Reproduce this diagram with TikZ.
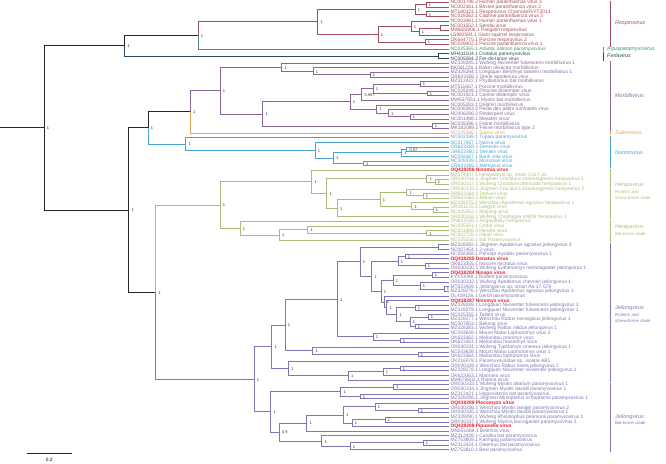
\documentclass[tikz,border=0pt]{standalone}
\usepackage{fontspec}
\setmainfont{Liberation Sans}
\usetikzlibrary{calc}
\definecolor{resp}{HTML}{A04F5E}
\definecolor{aqua}{HTML}{3E9A6E}
\definecolor{ferla}{HTML}{2E4A57}
\definecolor{morbi}{HTML}{8A689C}
\definecolor{salem}{HTML}{E0A84F}
\definecolor{narmo}{HTML}{4AA3CF}
\definecolor{heni}{HTML}{A9BD7A}
\definecolor{jeil}{HTML}{7C76B2}
\definecolor{redc}{HTML}{E8202A}
\newcommand\lf{\fontsize{4.9}{5}\selectfont}
\newcommand\tnd[4]{\path let \p1=(#3), \p2=(#4) in coordinate (#1) at (#2pt,{0.5*\y1+0.5*\y2});}
\tikzset{
  lab/.style={anchor=west, inner sep=0pt, xshift=1.3pt, font=\lf},
  redlab/.style={lab, text=redc, font=\lf\bfseries},
  bs/.style={anchor=west, inner sep=0pt, xshift=2.6pt, yshift=-0.5pt, font=\fontsize{4}{4}\selectfont, text=black!80},
  br/.style={line width=0.8pt},
  bb/.style={line width=0.95pt, black!85},
  clade/.style={anchor=west, inner sep=0pt, font=\fontsize{5.4}{6}\selectfont\itshape},
  sub/.style={anchor=west, inner sep=0pt, font=\fontsize{4.3}{5}\selectfont\itshape},
  bar/.style={line width=0.8pt}
}
\begin{document}
\begin{tikzpicture}[x=1pt,y=-1pt]
\useasboundingbox (0,0) rectangle (666,463);
\foreach \i in {1,...,97} \coordinate (t\i) at (449,{2.5+4.66*(\i-1)});
% Respirovirus
\tnd{r12}{426}{t1}{t2}
\tnd{r34}{426}{t3}{t4}
\tnd{rA}{415}{r12}{r34}
\tnd{r67}{440}{t6}{t7}
\tnd{r678}{419}{r67}{t8}
\tnd{r5678}{411}{t5}{r678}
\tnd{r910}{425}{t9}{t10}
\tnd{rB}{378}{r5678}{r910}
\tnd{rR}{317.7}{rA}{rB}
\tnd{rAq}{198}{rR}{t11}
\tnd{f}{438}{t12}{t13}
\tnd{top}{124.7}{rAq}{f}
% Morbillivirus
\tnd{m1617}{370}{t16}{t17}
\tnd{m2}{313}{t15}{m1617}
\tnd{m1}{281.7}{t14}{m2}
\tnd{m1819}{420}{t18}{t19}
\tnd{m2021}{427}{t20}{t21}
\tnd{m373}{373}{m1819}{m2021}
\tnd{m361}{361.7}{m373}{t22}
\tnd{m2526}{410}{t25}{t26}
\tnd{m388}{388.3}{t24}{m2526}
\tnd{m376}{376.7}{t23}{m388}
\tnd{m5}{350}{m361}{m376}
\tnd{m2728}{432}{t27}{t28}
\tnd{m4}{262.7}{m5}{m2728}
\tnd{m0}{220}{m1}{m4}
\tnd{ms}{190.3}{m0}{t29}
% Narmovirus
\tnd{n3233}{406.7}{t32}{t33}
\tnd{n3}{401.7}{n3233}{t34}
\tnd{n3536}{363.3}{t35}{t36}
\tnd{n2}{333.3}{n3}{n3536}
\tnd{n1}{315}{t31}{n2}
\tnd{n0}{185.7}{t30}{n1}
\tnd{mid}{148}{ms}{n0}
% Henipavirus
\tnd{h3940}{435}{t39}{t40}
\tnd{hg1}{426.7}{t38}{h3940}
\tnd{h4243}{423}{t42}{t43}
\tnd{h406}{406.7}{t41}{h4243}
\tnd{h4546}{433}{t45}{t46}
\tnd{h411}{411.7}{t44}{h4546}
\tnd{he}{380}{h406}{h411}
\tnd{hc}{337.3}{he}{t47}
\tnd{hb}{326.7}{hg1}{hc}
\tnd{ha}{311.7}{t37}{hb}
\tnd{h5051}{426.7}{t50}{t51}
\tnd{hk}{307.7}{t49}{h5051}
\tnd{hj}{279.3}{hk}{t52}
\tnd{hi}{240}{t48}{hj}
\tnd{hh}{220}{ha}{hi}
% Jeilongvirus rodent
\tnd{j5354}{438}{t53}{t54}
\tnd{j5556}{405}{t55}{t56}
\tnd{j5758}{425}{t57}{t58}
\tnd{j7}{398}{j5556}{j5758}
\tnd{j5960}{432}{t59}{t60}
\tnd{j6263}{444}{t62}{t63}
\tnd{j9b}{420}{t61}{j6263}
\tnd{j9}{393}{j5960}{j9b}
\tnd{j6667}{415}{t66}{t67}
\tnd{j6869}{428}{t68}{t69}
\tnd{j7071}{415}{t70}{t71}
\tnd{jq}{410}{j6869}{j7071}
\tnd{jp}{396.7}{j6667}{jq}
\tnd{jo}{386.7}{t65}{jp}
\tnd{jn}{384}{t64}{jo}
\tnd{j8}{381}{j9}{jn}
\tnd{j6}{371.7}{j7}{j8}
\tnd{j5}{360}{j5354}{j6}
\tnd{j7374}{400}{t73}{t74}
\tnd{j10}{373}{t72}{j7374}
\tnd{j4}{337.3}{j5}{j10}
\tnd{j7677}{418}{t76}{t77}
\tnd{j3}{312.7}{t75}{j7677}
\tnd{j2}{285}{j4}{j3}
\tnd{j7980}{400}{t79}{t80}
\tnd{j13}{383}{j7980}{t81}
\tnd{j12}{348.3}{j13}{t82}
\tnd{j11}{288.3}{t78}{j12}
\tnd{j1}{271.7}{j2}{j11}
% Jeilongvirus bat
\tnd{j8384}{393.3}{t83}{t84}
\tnd{j8586}{360}{t85}{t86}
\tnd{jb1}{340.7}{j8384}{j8586}
\tnd{j8889}{418}{t88}{t89}
\tnd{jb6}{375}{t87}{j8889}
\tnd{j9091}{385}{t90}{t91}
\tnd{jb7}{352}{j9091}{t92}
\tnd{jb5}{343.3}{jb6}{jb7}
\tnd{jb3}{306.7}{jb5}{t93}
\tnd{j9596}{423}{t95}{t96}
\tnd{jb8}{350}{j9596}{t97}
\tnd{jb4}{321.7}{t94}{jb8}
\tnd{jb2}{279.3}{jb3}{jb4}
\tnd{jb}{270.7}{jb1}{jb2}
\tnd{j0}{254}{j1}{jb}
\tnd{h0}{155.7}{hh}{j0}
\tnd{lower}{128.7}{mid}{h0}
\tnd{root}{44}{top}{lower}
\coordinate (rootin) at (0,0 |- root);
% ---- branches
\draw[bb] (rootin) -- (root);
\foreach \p/\c in {root/top, root/lower, top/rAq, lower/mid, lower/h0, mid/ms}
  \draw[bb] (\p) |- (\c);
\foreach \p/\c in {top/f, f/t12, f/t13} \draw[br,ferla] (\p) |- (\c);
\draw[br,aqua] (rAq) |- (t11);
\foreach \p/\c in {rAq/rR, rR/rA, rR/rB, rA/r12, rA/r34, r12/t1, r12/t2, r34/t3, r34/t4,
  rB/r5678, rB/r910, r5678/t5, r5678/r678, r678/r67, r678/t8, r67/t6, r67/t7, r910/t9, r910/t10}
  \draw[br,resp] (\p) |- (\c);
\foreach \p/\c in {ms/m0, m0/m1, m0/m4, m1/t14, m1/m2, m2/t15, m2/m1617, m1617/t16, m1617/t17,
  m4/m5, m4/m2728, m2728/t27, m2728/t28, m5/m361, m5/m376, m361/m373, m361/t22, m373/m1819,
  m373/m2021, m1819/t18, m1819/t19, m2021/t20, m2021/t21, m376/t23, m376/m388, m388/t24,
  m388/m2526, m2526/t25, m2526/t26}
  \draw[br,morbi] (\p) |- (\c);
\draw[br,salem] (ms) |- (t29);
\foreach \p/\c in {mid/n0, n0/t30, n0/n1, n1/t31, n1/n2, n2/n3, n2/n3536, n3/n3233, n3/t34,
  n3233/t32, n3233/t33, n3536/t35, n3536/t36}
  \draw[br,narmo] (\p) |- (\c);
\foreach \p/\c in {h0/hh, hh/ha, hh/hi, ha/t37, ha/hb, hb/hg1, hb/hc, hg1/t38, hg1/h3940,
  h3940/t39, h3940/t40, hc/he, hc/t47, he/h406, he/h411, h406/t41, h406/h4243, h4243/t42,
  h4243/t43, h411/t44, h411/h4546, h4546/t45, h4546/t46, hi/t48, hi/hj, hj/hk, hj/t52,
  hk/t49, hk/h5051, h5051/t50, h5051/t51}
  \draw[br,heni] (\p) |- (\c);
\foreach \p/\c in {h0/j0, j0/j1, j0/jb, j1/j2, j1/j11, j2/j4, j2/j3, j4/j5, j4/j10,
  j5/j5354, j5/j6, j5354/t53, j5354/t54, j6/j7, j6/j8, j7/j5556, j7/j5758, j5556/t55,
  j5556/t56, j5758/t57, j5758/t58, j8/j9, j8/jn, j9/j5960, j9/j9b, j5960/t59, j5960/t60,
  j9b/t61, j9b/j6263, j6263/t62, j6263/t63, jn/t64, jn/jo, jo/t65, jo/jp, jp/j6667, jp/jq,
  j6667/t66, j6667/t67, jq/j6869, jq/j7071, j6869/t68, j6869/t69, j7071/t70, j7071/t71,
  j10/t72, j10/j7374, j7374/t73, j7374/t74, j3/t75, j3/j7677, j7677/t76, j7677/t77,
  j11/t78, j11/j12, j12/j13, j12/t82, j13/j7980, j13/t81, j7980/t79, j7980/t80,
  jb/jb1, jb/jb2, jb1/j8384, jb1/j8586, j8384/t83, j8384/t84, j8586/t85, j8586/t86,
  jb2/jb3, jb2/jb4, jb3/jb5, jb3/t93, jb5/jb6, jb5/jb7, jb6/t87, jb6/j8889, j8889/t88,
  j8889/t89, jb7/j9091, jb7/t92, j9091/t90, j9091/t91, jb4/t94, jb4/jb8, jb8/j9596,
  jb8/t97, j9596/t95, j9596/t96}
  \draw[br,jeil] (\p) |- (\c);
% ---- support values
\foreach \n in {root, top, lower, rAq, rR, rA, r12, r34, rB, r5678, r678, r910,
  mid, ms, m0, m1, m2, m1617, m4, m5, m373, m1819, m2021, m376, m388, m2526, m2728,
  n0, n1, n2, n3, n3536, h0, hh, ha, hb, hg1, h3940, hc, he, h406, h4243, h411, h4546,
  hi, hj, hk, h5051, j0, j1, j2, j4, j5, j6, j7, j5556, j5758, j8, j9, j5960, j9b, j6263,
  jn, jo, jp, jq, j6667, j6869, j7071, j10, j7374, j3, j7677, j11, j12, j13, j7980,
  jb, jb1, j8384, j8586, jb3, jb4, jb5, jb6, j8889, jb7, j9091, jb8, j9596}
  \node[bs] at (\n) {1};
\node[bs] at (m361) {0.997};
\node[bs] at (n3233) {0.57};
\node[bs] at (jb2) {0.9};
% ---- tip labels
\node[lab,text=resp] at (t1) {NC001796.2 Human parainfluenza virus 3};
\node[lab,text=resp] at (t2) {NC002161.1 Bovine parainfluenza virus 3};
\node[lab,text=resp] at (t3) {MT180123.1 Respirovirus ChamoisRV/IT2014};
\node[lab,text=resp] at (t4) {NC028362.1 Caprine parainfluenza virus 3};
\node[lab,text=resp] at (t5) {NC003461.1 Human parainfluenza virus 1};
\node[lab,text=resp] at (t6) {NC001552.1 Sendai virus};
\node[lab,text=resp] at (t7) {MW605906.1 Pangolin respirovirus};
\node[lab,text=resp] at (t8) {LS992584.1 Giant squirrel respirovirus};
\node[lab,text=resp] at (t9) {OK644775.1 Porcine respirovirus 2};
\node[lab,text=resp] at (t10) {NC028402.1 Porcine parainfluenza virus 1};
\node[lab,text=aqua] at (t11) {NC025365.1 Atlantic salmon paramyxovirus};
\node[lab,text=ferla] at (t12) {MH411104.1 Crotalus paramyxovirus};
\node[lab,text=ferla] at (t13) {NC005084.2 Fer-de-lance virus};
\node[lab,text=morbi] at (t14) {MZ328285.1 Wufeng Niviventer fulvescens morbillivirus 1};
\node[lab,text=morbi] at (t15) {BK061226.1 Raton oliváceo morbillivirus};
\node[lab,text=morbi] at (t16) {MZ328284.1 Longquan Berylmys bowersi morbillivirus 1};
\node[lab,text=morbi] at (t17) {OR623356.1 Gierle apodemus virus};
\node[lab,text=morbi] at (t18) {MZ312422.1 Phyllostomus bat morbillivirus};
\node[lab,text=morbi] at (t19) {MT511667.1 Porcine morbillivirus};
\node[lab,text=morbi] at (t20) {NC028249.1 Phocine distemper virus};
\node[lab,text=morbi] at (t21) {NC001921.1 Canine distemper virus};
\node[lab,text=morbi] at (t22) {MW557651.1 Myotis bat morbillivirus};
\node[lab,text=morbi] at (t23) {NC005283.1 Dolphin morbillivirus};
\node[lab,text=morbi] at (t24) {NC006383.2 Peste des petits ruminants virus};
\node[lab,text=morbi] at (t25) {NC006296.2 Rinderpest virus};
\node[lab,text=morbi] at (t26) {NC001498.1 Measles virus};
\node[lab,text=morbi] at (t27) {NC039196.1 Feline morbillivirus};
\node[lab,text=morbi] at (t28) {MK182089.1 Feline morbillivirus type 2};
\node[lab,text=salem] at (t29) {NC025386.1 Salem virus};
\node[lab,text=narmo] at (t30) {NC002199.1 Tupaia paramyxovirus};
\node[lab,text=narmo] at (t31) {NC017937.1 Nariva virus};
\node[lab,text=narmo] at (t32) {OR623359.1 Denestis virus};
\node[lab,text=narmo] at (t33) {OR623360.1 Denalis virus};
\node[lab,text=narmo] at (t34) {NC058167.1 Bank vole virus};
\node[lab,text=narmo] at (t35) {NC008339.1 Mossman virus};
\node[lab,text=narmo] at (t36) {OR623365.1 Meleucus virus};
\node[redlab] at (t37) {OQ438286 Ninomia virus};
\node[lab,text=heni] at (t38) {MZ574407.1 Henipavirus sp. strain C117-32};
\node[lab,text=heni] at (t39) {OR030314.1 Jingmen Crocidura shantungensis henipavirus 1};
\node[lab,text=heni] at (t40) {OR030317.1 Wufeng Crocidura attenuata henipavirus 1};
\node[lab,text=heni] at (t41) {OR030315.1 Jingmen Crocidura shantungensis henipavirus 2};
\node[lab,text=heni] at (t42) {OR623364.1 Denwin virus};
\node[lab,text=heni] at (t43) {OR623363.1 Melian virus};
\node[lab,text=heni] at (t44) {MZ328275.1 Wenzhou Apodemus agrarius henipavirus 1};
\node[lab,text=heni] at (t45) {OR101125.1 Langya virus};
\node[lab,text=heni] at (t46) {NC025352.1 Mojiang virus};
\node[lab,text=heni] at (t47) {OR030316.1 Wufeng Chodsigoa smithii henipavirus 1};
\node[lab,text=heni] at (t48) {ON613535.1 Angavokely henipavirus};
\node[lab,text=heni] at (t49) {NC025351.1 Cedar virus};
\node[lab,text=heni] at (t50) {NC001906.3 Hendra virus};
\node[lab,text=heni] at (t51) {NC002728.1 Nipah virus};
\node[lab,text=heni] at (t52) {NC025256.1 Bat Paramyxovirus};
\node[lab,text=jeil] at (t53) {MZ328282.1 Jingmen Apodemus agrarius jeilongvirus 2};
\node[lab,text=jeil] at (t54) {NC007454.1 J-virus};
\node[lab,text=jeil] at (t55) {NC058168.1 Pohorje myodes paramyxovirus 1};
\node[redlab] at (t56) {OQ438285 Denatus virus};
\node[lab,text=jeil] at (t57) {OK623355.1 Nosove microtus virus};
\node[lab,text=jeil] at (t58) {OR030330.1 Wufeng Eothenomys melanogaster jeilongvirus 1};
\node[redlab] at (t59) {OQ438284 Ninapo virus};
\node[lab,text=jeil] at (t60) {KY370098.1 Rodent paramyxovirus};
\node[lab,text=jeil] at (t61) {OR030332.1 Wufeng Apodemus chevrieri jeilongvirus 1};
\node[lab,text=jeil] at (t62) {MT823459.1 Jeilongvirus sp. strain Aa-17-579};
\node[lab,text=jeil] at (t63) {MZ328276.1 Wenzhou Apodemus agrarius jeilongvirus 1};
\node[lab,text=jeil] at (t64) {OL409126.1 Gerbil paramyxovirus};
\node[redlab] at (t65) {OQ438287 Ninomys virus};
\node[lab,text=jeil] at (t66) {MZ328289.1 Longquan Niviventer fulvescens jeilongvirus 2};
\node[lab,text=jeil] at (t67) {MZ328279.1 Longquan Niviventer fulvescens jeilongvirus 1};
\node[lab,text=jeil] at (t68) {NC025355.1 Tailam virus};
\node[lab,text=jeil] at (t69) {MZ328277.1 Wenzhou Rattus norvegicus jeilongvirus 1};
\node[lab,text=jeil] at (t70) {NC007803.1 Beilong virus};
\node[lab,text=jeil] at (t71) {MZ328283.1 Wufeng Rattus nitidus jeilongvirus 1};
\node[lab,text=jeil] at (t72) {NC043649.1 Mount Mabu Lophuromys virus 2};
\node[lab,text=jeil] at (t73) {OK623362.1 Meliandou praomys virus};
\node[lab,text=jeil] at (t74) {OK623361.1 Meliandou mastomys virus};
\node[lab,text=jeil] at (t75) {OR030331.1 Wufeng Typhlomys cinereus jeilongvirus 1};
\node[lab,text=jeil] at (t76) {NC043638.1 Mount Mabu Lophuromys virus 1};
\node[lab,text=jeil] at (t77) {OK623364.1 Meliandou lophuromys virus};
\node[lab,text=jeil] at (t78) {OK216078.1 Paramyxoviridae sp. isolate AB1};
\node[lab,text=jeil] at (t79) {OR030339.1 Wenzhou Rattus losea jeilongvirus 2};
\node[lab,text=jeil] at (t80) {MZ328278.1 Longquan Niviventer niviventer jeilongvirus 1};
\node[lab,text=jeil] at (t81) {OK623363.1 Mamana virus};
\node[lab,text=jeil] at (t82) {MW679602.1 Rulona virus};
\node[lab,text=jeil] at (t83) {OR030333.1 Wufeng Myotis altarium paramyxovirus 1};
\node[lab,text=jeil] at (t84) {OR030334.1 Jingmen Myotis davidii paramyxovirus 1};
\node[lab,text=jeil] at (t85) {MZ312421.1 Hipposideros bat paramyxovirus};
\node[lab,text=jeil] at (t86) {MZ328288.1 Jingmen Miniopterus schreibersii paramyxovirus 1};
\node[redlab] at (t87) {OQ438289 Plecomyzo virus};
\node[lab,text=jeil] at (t88) {OR030336.1 Wenzhou Myotis laniger paramyxovirus 2};
\node[lab,text=jeil] at (t89) {OR030335.1 Wenzhou Myotis davidii paramyxovirus 1};
\node[lab,text=jeil] at (t90) {MZ328290.1 Wufeng Rhinolophus pearsonii paramyxovirus 1};
\node[lab,text=jeil] at (t91) {OR030337.1 Wufeng Murina leucogaster paramyxovirus 1};
\node[redlab] at (t92) {OQ438288 Pipuwella virus};
\node[lab,text=jeil] at (t93) {MN651669.1 Belerina virus};
\node[lab,text=jeil] at (t94) {MZ312428.1 Carollia bat paramyxovirus};
\node[lab,text=jeil] at (t95) {MZ753809.1 Kanhgag paramyxovirus};
\node[lab,text=jeil] at (t96) {MZ312424.1 Diaemus bat paramyxovirus};
\node[lab,text=jeil] at (t97) {MZ753810.1 Bow paramyxovirus};
% ---- clade bars and names
\coordinate (b1a) at (610,0.5);   \coordinate (b1b) at (610,46.5);
\coordinate (b2a) at (603,47);    \coordinate (b2b) at (603,51.3);
\coordinate (b3a) at (603,51.8);  \coordinate (b3b) at (603,60.5);
\coordinate (b4a) at (610,61);    \coordinate (b4b) at (610,130.5);
\coordinate (b5a) at (610,131.2); \coordinate (b5b) at (610,135);
\coordinate (b6a) at (610,135.6); \coordinate (b6b) at (610,167.8);
\coordinate (b7a) at (610,168.5); \coordinate (b7b) at (610,219);
\coordinate (b8a) at (610,219.7); \coordinate (b8b) at (610,242.3);
\coordinate (b9a) at (610,243);   \coordinate (b9b) at (610,382);
\coordinate (b10a) at (610,382.7);\coordinate (b10b) at (610,452);
\draw[bar,resp] (b1a) -- (b1b);
\draw[bar,aqua] (b2a) -- (b2b);
\draw[bar,ferla] (b3a) -- (b3b);
\draw[bar,morbi] (b4a) -- (b4b);
\draw[bar,salem] (b5a) -- (b5b);
\draw[bar,narmo] (b6a) -- (b6b);
\draw[bar,heni] (b7a) -- (b7b);
\draw[bar,heni] (b8a) -- (b8b);
\draw[bar,jeil] (b9a) -- (b9b);
\draw[bar,jeil] (b10a) -- (b10b);
\node[clade,text=resp] (cl1) at (615,23.3) {Respirovirus};
\node[clade,text=aqua] (cl2) at (607,49.6) {Aquaparamyxovirus};
\node[clade,text=ferla] (cl3) at (607,55.8) {Ferlavirus};
\node[clade,text=morbi] (cl4) at (615,95.7) {Morbillivirus};
\node[clade,text=salem] (cl5) at (615,133) {Salemvirus};
\node[clade,text=narmo] (cl6) at (615,152.7) {Narmovirus};
\node[clade,text=heni] (cl7) at (615,184.7) {Henipavirus};
\node[sub,text=heni] (cl7a) at (615,191.8) {Rodent- and};
\node[sub,text=heni] (cl7b) at (615,198) {shrew-borne clade};
\node[clade,text=heni] (cl8) at (615,227) {Henipavirus};
\node[sub,text=heni] (cl8a) at (615,233.8) {Bat-borne clade};
\node[clade,text=jeil] (cl9) at (615,308) {Jeilongvirus};
\node[sub,text=jeil] (cl9a) at (615,314.5) {Rodent- and};
\node[sub,text=jeil] (cl9b) at (615,320.5) {shrew-borne clade};
\node[clade,text=jeil] (cl10) at (615,416.8) {Jeilongvirus};
\node[sub,text=jeil] (cl10a) at (615,423) {Bat-borne clade};
% ---- scale bar
\coordinate (sa) at (26.7,453.3);
\coordinate (sb) at (71.7,453.3);
\draw[line width=0.8pt,black!85] (sa) -- (sb);
\node[inner sep=0pt,font=\fontsize{4.8}{5}\selectfont] (sl) at (49.3,459.5) {0.2};
\end{tikzpicture}
\end{document}
